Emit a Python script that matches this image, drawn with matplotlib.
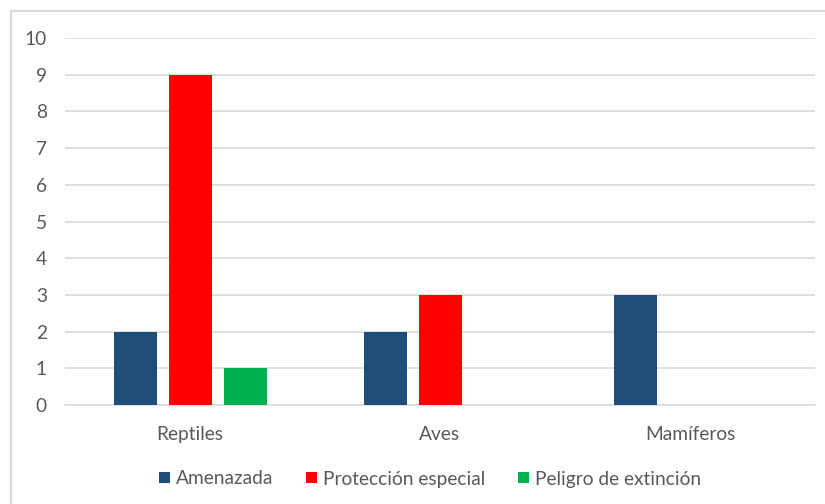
import matplotlib
matplotlib.use("Agg")
import matplotlib.pyplot as plt
from matplotlib.patches import Rectangle
import numpy as np

categories = ["Reptiles", "Aves", "Mamíferos"]
series_names = ["Amenazada", "Protección especial", "Peligro de extinción"]
amenazada = [2, 2, 3]
proteccion = [9, 3, 0]
peligro = [1, 0, 0]
colors = ["#1f4e79", "#ff0000", "#00b050"]
yticks = list(range(0, 11))

plt.rcParams["font.family"] = ["Lato", "DejaVu Sans"]
text_color = "#595959"
grid_color = "#d9d9d9"
fs = 13.8

W, H = 825, 504
fig = plt.figure(figsize=(W / 100, H / 100), dpi=100)

# outer chart frame
fig.patches.append(Rectangle((11 / W, -0.05), 1.2, 1 - 11 / H + 0.05,
                             transform=fig.transFigure, fill=False,
                             edgecolor=grid_color, linewidth=1.5))

ax = fig.add_axes([65 / W, 1 - 405 / H, 750 / W, (405 - 38) / H])

x = np.arange(len(categories))
bw = 0.172
step = 0.22
for i, (vals, name) in enumerate(zip([amenazada, proteccion, peligro], series_names)):
    ax.bar(x + (i - 1) * step + 0.002, vals, width=bw, color=colors[i], label=name, zorder=3)

ax.set_xlim(-0.5, len(categories) - 0.5)
ax.set_ylim(0, 10)
ax.set_yticks(yticks)
ax.set_yticklabels([str(t) for t in yticks])
ax.set_xticks(x)
ax.set_xticklabels(categories)
ax.yaxis.grid(True, color=grid_color, linewidth=1.2, zorder=0)
ax.set_axisbelow(True)
for s in ["top", "right", "left"]:
    ax.spines[s].set_visible(False)
ax.spines["bottom"].set_color(grid_color)
ax.spines["bottom"].set_linewidth(1.2)
ax.tick_params(axis="both", length=0, colors=text_color, labelsize=fs)
ax.tick_params(axis="y", pad=13)
ax.tick_params(axis="x", pad=15)

fig.legend(loc="center", bbox_to_anchor=(430 / W, 1 - 479 / H), ncol=3,
           frameon=False, handlelength=0.55, handleheight=0.55,
           handletextpad=0.3, columnspacing=1.75, fontsize=fs,
           labelcolor=text_color)

fig.savefig("out.png", dpi=100, facecolor="white")
